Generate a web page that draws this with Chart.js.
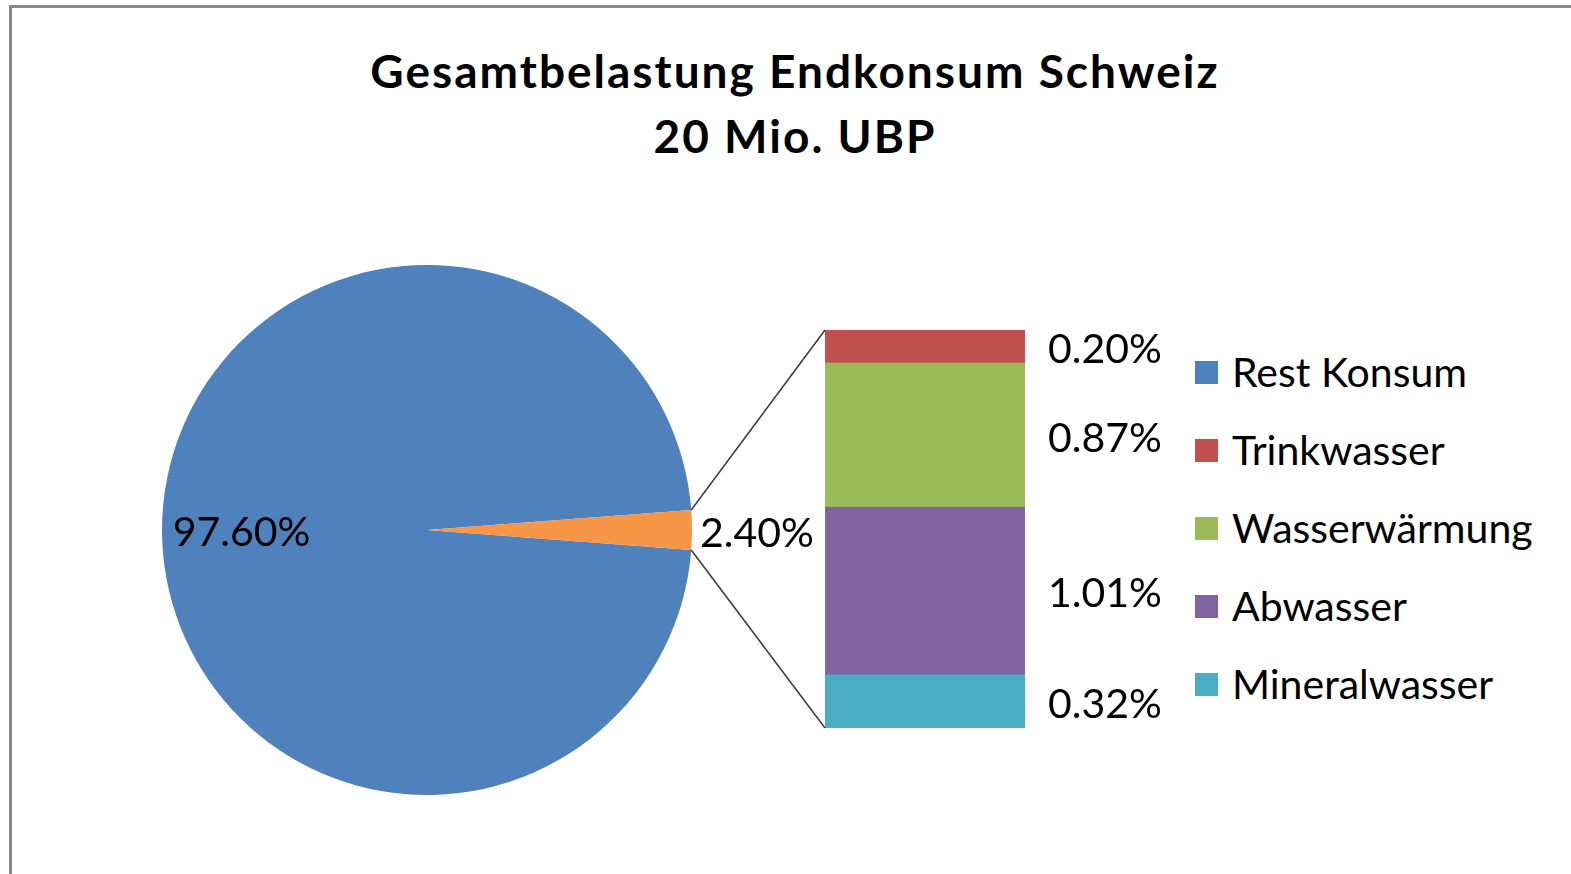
<!DOCTYPE html>
<html lang="de">
<head>
  <meta charset="UTF-8">
  <title>Gesamtbelastung Endkonsum Schweiz</title>
  <script src="https://cdn.jsdelivr.net/npm/chart.js@4.4.1/dist/chart.umd.min.js"></script>
  <style>
    body { margin: 0; background: #fff; font-family: Lato, "Open Sans", sans-serif; }
    #frame { position: absolute; left: 9px; top: 5px; width: 1600px; height: 900px;
             border-top: 3px solid #878787; border-left: 3px solid #878787; }
    #title { position: absolute; left: 0; top: 38px; width: 1590px; text-align: center;
             font-weight: bold; font-size: 46px; letter-spacing: 2px; line-height: 65px; color: #000; }
    canvas { position: absolute; }
    #pieWrap { position: absolute; left: 12px; top: 200px; width: 830px; height: 660px; }
    #barWrap { position: absolute; left: 680px; top: 290px; width: 500px; height: 470px; }
    #legend { position: absolute; left: 1195px; top: 352px; }
    .item { height: 78px; display: flex; align-items: flex-start; font-size: 41px; color: #000; }
    .box { width: 23px; height: 23px; margin-top: 9px; margin-right: 14px; }
    .item span.txt { line-height: 40px; }
  </style>
</head>
<body>
  <div id="frame"></div>
  <div id="title">Gesamtbelastung Endkonsum Schweiz<br>20 Mio. UBP</div>
  <div id="pieWrap"><canvas id="pieChart" width="830" height="660"></canvas></div>
  <div id="barWrap"><canvas id="barChart" width="500" height="470"></canvas></div>
  <div id="legend"></div>

  <script>
    // pie: rest of consumption vs. water (split out into the bar)
    const pieLabels = ['Rest Konsum', 'Wasser'];
    const pieValues = [97.60, 2.40];
    const pieColors = ['#4F81BD', '#F79646'];

    // bar: breakdown of the water share, top to bottom
    const barLabels = ['Trinkwasser', 'Wasserwärmung', 'Abwasser', 'Mineralwasser'];
    const barValues = [0.20, 0.87, 1.01, 0.32];
    const barColors = ['#C0504D', '#9BBB59', '#8064A2', '#4BACC6'];

    const labelFont = '41px Lato';
    const fmt = v => v.toFixed(2) + '%';

    const pieTotal = pieValues.reduce((a, b) => a + b, 0);
    const barTotal = barValues.reduce((a, b) => a + b, 0);

    function build() {
      // legend
      const legend = document.getElementById('legend');
      const legendNames = [pieLabels[0]].concat(barLabels);
      const legendColors = [pieColors[0]].concat(barColors);
      legendNames.forEach((name, i) => {
        const row = document.createElement('div');
        row.className = 'item';
        row.innerHTML = '<div class="box" style="background:' + legendColors[i] + '"></div><span class="txt">' + name + '</span>';
        legend.appendChild(row);
      });

      const pieLabelPlugin = {
        id: 'pieLabels',
        afterDatasetsDraw(chart) {
          const ctx = chart.ctx;
          const arcs = chart.getDatasetMeta(0).data;
          ctx.save();
          ctx.font = labelFont;
          ctx.fillStyle = '#000';
          ctx.textBaseline = 'middle';
          arcs.forEach((arc, i) => {
            const mid = (arc.startAngle + arc.endAngle) / 2;
            if (i === 0) {
              ctx.textAlign = 'center';
              ctx.fillText(fmt(pieValues[i]), arc.x + Math.cos(mid) * arc.outerRadius * 0.70,
                           arc.y + Math.sin(mid) * arc.outerRadius * 0.70 + 3);
            } else {
              ctx.textAlign = 'left';
              ctx.fillText(fmt(pieValues[i]), arc.x + arc.outerRadius + 8, arc.y + Math.sin(mid) * arc.outerRadius + 4);
            }
          });
          ctx.restore();
        }
      };

      const pieChart = new Chart(document.getElementById('pieChart'), {
        type: 'pie',
        data: {
          labels: pieLabels,
          datasets: [{
            data: pieValues,
            backgroundColor: pieColors,
            borderWidth: 0,
            hoverOffset: 0,
            offset: 0
          }]
        },
        options: {
          responsive: false,
          animation: false,
          rotation: 90 + 180 * pieValues[1] / pieTotal,
          layout: { padding: { left: 150, right: 150, top: 65, bottom: 65 } },
          plugins: { legend: { display: false }, tooltip: { enabled: false } }
        },
        plugins: [pieLabelPlugin]
      });

      const pieWrap = document.getElementById('pieWrap');
      const barWrap = document.getElementById('barWrap');

      const barLabelPlugin = {
        id: 'barLabels',
        afterDatasetsDraw(chart) {
          const ctx = chart.ctx;
          ctx.save();
          ctx.font = labelFont;
          ctx.fillStyle = '#000';
          ctx.textBaseline = 'middle';
          ctx.textAlign = 'left';
          chart.data.datasets.forEach((ds, di) => {
            const bar = chart.getDatasetMeta(di).data[0];
            ctx.fillText(fmt(ds.data[0]), bar.x + bar.width / 2 + 23, (bar.y + bar.base) / 2 + 3);
          });
          // connector lines from the small pie slice to the bar
          const arc = pieChart.getDatasetMeta(0).data[1];
          const dx = pieWrap.offsetLeft - barWrap.offsetLeft;
          const dy = pieWrap.offsetTop - barWrap.offsetTop;
          const p1 = { x: arc.x + Math.cos(arc.startAngle) * arc.outerRadius + dx,
                       y: arc.y + Math.sin(arc.startAngle) * arc.outerRadius + dy };
          const p2 = { x: arc.x + Math.cos(arc.endAngle) * arc.outerRadius + dx,
                       y: arc.y + Math.sin(arc.endAngle) * arc.outerRadius + dy };
          const area = chart.chartArea;
          ctx.strokeStyle = '#3a3a3a';
          ctx.lineWidth = 1.5;
          ctx.beginPath();
          ctx.moveTo(p1.x, p1.y);
          ctx.lineTo(area.left, area.top);
          ctx.moveTo(p2.x, p2.y);
          ctx.lineTo(area.left, area.bottom);
          ctx.stroke();
          ctx.restore();
        }
      };

      // stacked from the bottom up, so reverse the top-to-bottom order
      const order = barLabels.map((_, i) => i).reverse();
      new Chart(document.getElementById('barChart'), {
        type: 'bar',
        data: {
          labels: ['Wasser'],
          datasets: order.map(i => ({
            label: barLabels[i],
            data: [barValues[i]],
            backgroundColor: barColors[i],
            borderWidth: 0,
            barPercentage: 1,
            categoryPercentage: 1
          }))
        },
        options: {
          responsive: false,
          animation: false,
          layout: { padding: { left: 145, right: 155, top: 40, bottom: 32 } },
          scales: {
            x: { stacked: true, display: false },
            y: { stacked: true, display: false, min: 0, max: barTotal }
          },
          plugins: { legend: { display: false }, tooltip: { enabled: false } }
        },
        plugins: [barLabelPlugin]
      });
    }

    document.fonts.load(labelFont).then(build, build);
  </script>
</body>
</html>
